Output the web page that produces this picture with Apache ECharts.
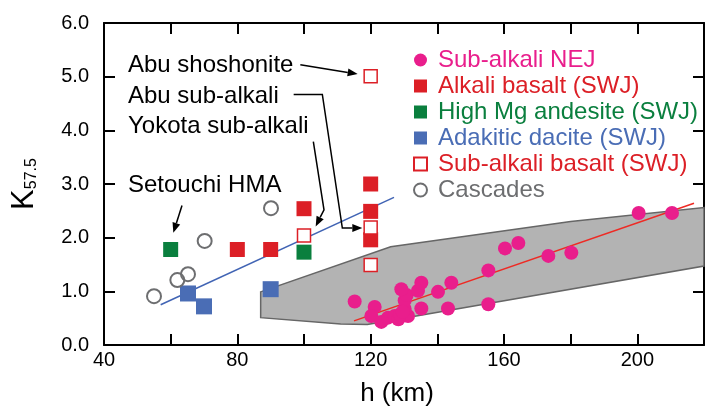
<!DOCTYPE html>
<html><head><meta charset="utf-8">
<script src="https://cdn.jsdelivr.net/npm/echarts@6/dist/echarts.min.js"></script>
<style>html,body{margin:0;padding:0;background:#fff}#c{width:710px;height:412px}</style>
</head><body><div id="c"></div>
<script>
const FONT = '"Liberation Sans", Arial, Helvetica, sans-serif';

// Sub-alkali NEJ
const nejH = [115.2,121.2,120.2,123.2,125.2,127.2,128.3,131.2,130.2,130.2,130.8,129.2,134.2,135.2,135.2,140.2,143.2,144.2,155.3,155.3,160.3,164.3,173.3,180.2,200.4,210.4,128.8,129.6];
const nejK = [0.81,0.71,0.54,0.43,0.51,0.54,0.48,0.54,0.67,0.83,0.93,1.04,1.01,1.16,0.68,0.99,0.68,1.16,1.39,0.76,1.80,1.90,1.66,1.72,2.46,2.46,0.57,0.62];
// Alkali basalt (SWJ)
const alkH = [80,90,100,120,120,120];
const alkK = [1.78,1.78,2.54,3.00,2.49,1.96];
// High Mg andesite (SWJ)
const hmaH = [60,100];
const hmaK = [1.78,1.73];
// Adakitic dacite (SWJ)
const adaH = [65.2,70,90];
const adaK = [0.96,0.72,1.04];
// Sub-alkali basalt (SWJ)
const sabH = [100,120,120,120];
const sabK = [2.04,5.01,2.19,1.49];
// Cascades
const casH = [55,62,65.2,70.2,90.1];
const casK = [0.91,1.21,1.32,1.94,2.55];
// regression lines
const swjFitH = [57,127];
const swjFitK = [0.75,2.75];
const nejFitH = [115,217];
const nejFitK = [0.45,2.64];
// grey field outline (h, K)
const fieldH = [87,126,180,220,220,119,111,87];
const fieldK = [0.99,1.83,2.30,2.56,1.47,0.38,0.39,0.51];
// axis ticks
const xTicks = [40,80,120,160,200];
const yTicks = [0,1,2,3,4,5,6];

// annotations (label, arrow path in data coords)
const annLabels = ['Abu shoshonite','Abu sub-alkali','Yokota sub-alkali','Setouchi HMA'];
const annPaths = [
  [[98.9,5.22],[116.1,5.05]],
  [[96.9,4.67],[105.5,4.67],[111.5,2.18],[117.5,2.18]],
  [[102.8,3.79],[106.0,2.52],[103.5,2.21]],
  [[63.4,2.60],[60.8,2.09]]
];

const C = {pink:'#e91e8c', red:'#dc1f26', green:'#0a7f3e', blue:'#4a6db5', gray:'#6d6e70'};
const pts = (h,k) => h.map((x,i)=>[x,k[i]]);

const axisLine = {onZero:false, lineStyle:{color:'#000', width:2}};
const axisTick = {inside:true, length:11, lineStyle:{color:'#000', width:2}};

const chart = echarts.init(document.getElementById('c'));
const option = {
  animation:false,
  grid:{left:104, right:6, top:23, bottom:64},
  xAxis:[
    {type:'value', min:40, max:220, interval:20, position:'bottom', axisLine, axisTick, splitLine:{show:false},
     axisLabel:{formatter:v=>xTicks.includes(v)?String(v):'', color:'#000', fontSize:20, fontFamily:FONT, margin:5},
     name:'h (km)', nameLocation:'middle', nameGap:36,
     nameTextStyle:{fontSize:26, fontFamily:FONT, color:'#000', padding:[0,14,0,0]}},
    {type:'value', min:40, max:220, interval:20, position:'top', axisLine, axisTick, splitLine:{show:false}, axisLabel:{show:false}}
  ],
  yAxis:[
    {type:'value', min:0, max:6, interval:1, position:'left', axisLine, axisTick, splitLine:{show:false},
     axisLabel:{formatter:v=>yTicks.includes(v)?v.toFixed(1):'', color:'#000', fontSize:20, fontFamily:FONT, margin:15},
     name:'{k|K}{s|57.5}', nameLocation:'middle', nameGap:64, nameRotate:90,
     nameTextStyle:{rich:{k:{fontSize:31, fontFamily:FONT, color:'#000', verticalAlign:'bottom'},
                          s:{fontSize:16, fontFamily:FONT, color:'#000', verticalAlign:'bottom'}}}},
    {type:'value', min:0, max:6, interval:1, position:'right', axisLine, axisTick, splitLine:{show:false}, axisLabel:{show:false}}
  ],
  legend:{
    orient:'vertical', left:408, top:42, itemWidth:13, itemHeight:13, itemGap:0,
    textStyle:{fontSize:24, fontFamily:FONT, lineHeight:26, padding:[0,0,0,6]},
    data:[
      {name:'Sub-alkali NEJ', textStyle:{color:C.pink}},
      {name:'Alkali basalt (SWJ)', textStyle:{color:C.red}},
      {name:'High Mg andesite (SWJ)', textStyle:{color:C.green}},
      {name:'Adakitic dacite (SWJ)', textStyle:{color:C.blue}},
      {name:'Sub-alkali basalt (SWJ)', textStyle:{color:C.red}},
      {name:'Cascades', textStyle:{color:C.gray}}
    ]
  },
  series:[
    {type:'custom', name:'field', silent:true, z:1, data:[[100,1]],
     renderItem:(params, api)=>({type:'polygon',
       shape:{points: fieldH.map((h,i)=>api.coord([h, fieldK[i]]))},
       style:{fill:'#b3b3b3', stroke:'#666666', lineWidth:1.5}})},
    {type:'line', name:'swjFit', z:2, symbol:'none', silent:true, data:pts(swjFitH, swjFitK), lineStyle:{color:'#4164b4', width:1.5}},
    {type:'line', name:'nejFit', z:2, symbol:'none', silent:true, data:pts(nejFitH, nejFitK), lineStyle:{color:'#ee2a24', width:1.5}},
    {type:'scatter', name:'Sub-alkali NEJ', z:3, symbol:'circle', symbolSize:14, data:pts(nejH,nejK), itemStyle:{color:C.pink, opacity:1}},
    {type:'scatter', name:'Alkali basalt (SWJ)', z:3, symbol:'rect', symbolSize:15, data:pts(alkH,alkK), itemStyle:{color:C.red, opacity:1}},
    {type:'scatter', name:'High Mg andesite (SWJ)', z:3, symbol:'rect', symbolSize:15, data:pts(hmaH,hmaK), itemStyle:{color:C.green, opacity:1}},
    {type:'scatter', name:'Adakitic dacite (SWJ)', z:3, symbol:'rect', symbolSize:16, data:pts(adaH,adaK), itemStyle:{color:C.blue, opacity:1}},
    {type:'scatter', name:'Sub-alkali basalt (SWJ)', z:4, symbol:'rect', symbolSize:13, data:pts(sabH,sabK), itemStyle:{color:'#fff', borderColor:C.red, borderWidth:1.5, opacity:1}},
    {type:'scatter', name:'Cascades', z:3, symbol:'circle', symbolSize:14, data:pts(casH,casK), itemStyle:{color:'rgba(255,255,255,0)', borderColor:C.gray, borderWidth:2, opacity:1}}
  ]
};
chart.setOption(option);

const toPx = p => chart.convertToPixel({xAxisIndex:0, yAxisIndex:0}, p);
const graphics = [];
const annY = [65, 96, 126, 185];
annLabels.forEach((t,i)=>{
  graphics.push({type:'text', x:128, y:annY[i], z:10,
    style:{text:t, fontSize:24, fontFamily:FONT, fill:'#000', verticalAlign:'middle', align:'left'}});
});
annPaths.forEach(path=>{
  const p = path.map(toPx);
  const n = p.length;
  const [x1,y1] = p[n-2], [x2,y2] = p[n-1];
  const ang = Math.atan2(y2-y1, x2-x1);
  const L = 10, W = 4;
  const bx = x2 - L*Math.cos(ang), by = y2 - L*Math.sin(ang);
  const line = p.slice(0, n-1).concat([[bx,by]]);
  graphics.push({type:'polyline', z:10, shape:{points:line}, style:{stroke:'#000', lineWidth:1.5, fill:null}});
  graphics.push({type:'polygon', z:10, shape:{points:[[x2,y2],
    [bx + W*Math.sin(ang), by - W*Math.cos(ang)],
    [bx - W*Math.sin(ang), by + W*Math.cos(ang)]]}, style:{fill:'#000'}});
});
chart.setOption({graphic:graphics});
</script>
</body></html>
